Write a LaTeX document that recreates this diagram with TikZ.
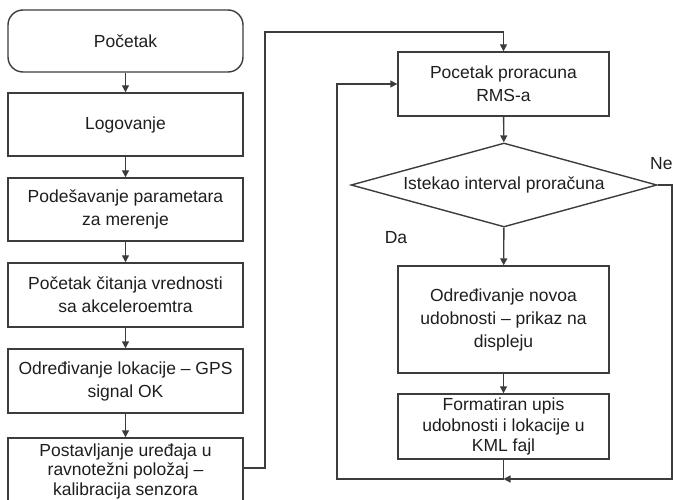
\documentclass[tikz,border=0pt]{standalone}
\usepackage{fontspec}
\setmainfont{Liberation Sans}
\usetikzlibrary{arrows.meta,shapes.geometric}
\definecolor{ln}{HTML}{3C3C3C}
\definecolor{tx}{HTML}{1E1E1E}
\begin{document}
\begin{tikzpicture}[x=1pt,y=-1pt,
  box/.style={draw=ln,line width=1.4pt,rectangle,align=center,text=tx,font=\fontsize{17.5}{23}\selectfont,inner sep=2pt},
  dia/.style={draw=ln,line width=1.4pt,diamond,aspect=3.64,inner sep=0pt,text=tx,font=\fontsize{17.5}{23}\selectfont},
  conn/.style={draw=ln,line width=1.4pt},
  arr/.style={conn,-{Triangle[length=7pt,width=7pt]}},
  lbl/.style={text=tx,font=\fontsize{17.5}{23}\selectfont,inner sep=0pt}]
\useasboundingbox (0,0) rectangle (673,500);
\clip (0,0) rectangle (673,500);
% left column
\node[box,rounded corners=15pt,minimum width=235pt,minimum height=62pt] (start) at (125.5,41) {Početak};
\node[box,minimum width=235pt,minimum height=63pt] (log) at (125.5,124.5) {Logovanje};
\node[box,minimum width=235pt,minimum height=63pt] (pod) at (125.5,209.5) {Podešavanje parametara\\za merenje};
\node[box,minimum width=235pt,minimum height=64pt] (cit) at (125.5,295) {Početak čitanja vrednosti\\sa akceleroemtra};
\node[box,minimum width=235pt,minimum height=64pt] (lok) at (125.5,381) {Određivanje lokacije – GPS\\signal OK};
\node[box,minimum width=235pt,minimum height=66pt,font=\fontsize{17.5}{19.5}\selectfont] (pos) at (125.5,471) {Postavljanje uređaja u\\ravnotežni položaj –\\kalibracija senzora};
% right column
\node[box,minimum width=211pt,minimum height=64pt] (rms) at (503.5,84) {Pocetak proracuna\\RMS-a};
\node[dia,minimum width=306pt,minimum height=84pt] (d) at (504,185) {Istekao interval proračuna};
\node[box,minimum width=211pt,minimum height=107pt] (udob) at (503.5,319.5) {Određivanje novoa\\udobnosti – prikaz na\\displeju};
\node[box,minimum width=211pt,minimum height=65pt,font=\fontsize{17.5}{20.5}\selectfont] (kml) at (503.5,426.5) {Formatiran upis\\udobnosti i lokacije u\\KML fajl};
\node[lbl,anchor=west] (ne) at (650,164) {Ne};
\node[lbl] (da) at (396,238) {Da};
\coordinate (m) at (kml.south |- 0,479);
\coordinate (r1) at (672,185);
\coordinate (r2) at (672,479);
\coordinate (l1) at (337,479);
\coordinate (l2) at (337,84);
\coordinate (t1) at (265,32);
% connectors
\draw[arr] (start) -- (log);
\draw[arr] (log) -- (pod);
\draw[arr] (pod) -- (cit);
\draw[arr] (cit) -- (lok);
\draw[arr] (lok) -- (pos);
\draw[arr] (pos.east |- 0,468) -| (t1) -| (rms.north);
\draw[arr] (rms) -- (d);
\draw[arr] (d) -- (udob);
\draw[arr] (udob) -- (kml);
\draw[conn] (kml.south) -- (m);
\draw[arr] (d.east) -- (r1) -- (r2) -- (m);
\draw[arr] (m) -- (l1) -- (l2) -- (rms.west);
\end{tikzpicture}
\end{document}
